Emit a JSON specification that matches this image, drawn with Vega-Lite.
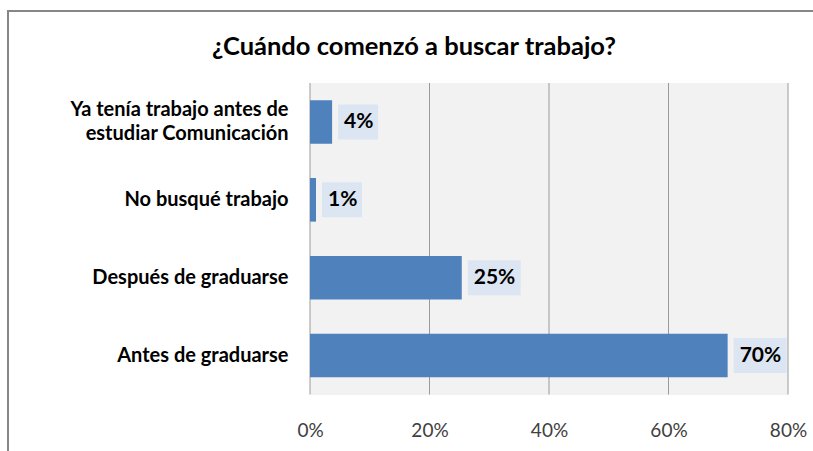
{
  "$schema": "https://vega.github.io/schema/vega-lite/v6.json",
  "autosize": {"type": "none"},
  "padding": {"left": 8, "top": 11, "right": 0, "bottom": 0},
  "width": 830,
  "height": 460,
  "background": "white",
  "config": {
    "view": {"stroke": "#868686", "strokeWidth": 2, "fill": "white"},
    "font": "Lato"
  },
  "title": {
    "text": "¿Cuándo comenzó a buscar trabajo?",
    "orient": "top",
    "anchor": "middle",
    "frame": "group",
    "baseline": "alphabetic",
    "offset": -69,
    "dx": -9,
    "font": "Lato",
    "fontSize": 25.5,
    "fontWeight": "bold",
    "color": "#000000"
  },
  "datasets": {
    "answers": [
      {"category": "Ya tenía trabajo antes de estudiar Comunicación", "value": 3.7, "label": "4%"},
      {"category": "No busqué trabajo", "value": 1.0, "label": "1%"},
      {"category": "Después de graduarse", "value": 25.4, "label": "25%"},
      {"category": "Antes de graduarse", "value": 69.9, "label": "70%"}
    ],
    "grid": [{"tick": 0}, {"tick": 20}, {"tick": 40}, {"tick": 60}, {"tick": 80}]
  },
  "resolve": {"scale": {"y": "independent"}},
  "layer": [
    {
      "data": {"name": "grid"},
      "layer": [
        {
          "mark": {"type": "rect", "color": "#f2f2f2"},
          "encoding": {
            "x": {"datum": 0, "type": "quantitative", "scale": {"domain": [0, 80], "range": [302, 780]}},
            "x2": {"datum": 80},
            "y": {"datum": 0, "type": "quantitative", "scale": {"domain": [0, 1], "range": [72, 383.5]}, "axis": null},
            "y2": {"datum": 1}
          }
        },
        {
          "mark": {"type": "rule", "color": "#9a9a9a", "strokeWidth": 1},
          "encoding": {
            "x": {"field": "tick", "type": "quantitative", "scale": {"domain": [0, 80], "range": [302, 780]}},
            "y": {"datum": 0, "type": "quantitative", "scale": {"domain": [0, 1], "range": [72, 383.5]}, "axis": null},
            "y2": {"datum": 1}
          }
        }
      ]
    },
    {
      "data": {"name": "answers"},
      "encoding": {
        "y": {
          "field": "category",
          "type": "nominal",
          "sort": ["Ya tenía trabajo antes de estudiar Comunicación", "No busqué trabajo", "Después de graduarse", "Antes de graduarse"],
          "scale": {"range": [72, 383.5], "paddingInner": 0.44, "paddingOuter": 0.22},
          "axis": {
            "title": null,
            "orient": "left",
            "offset": -302,
            "domain": false,
            "ticks": false,
            "labelPadding": 22,
            "labelFont": "Lato",
            "labelFontSize": 20,
            "labelFontWeight": "bold",
            "labelColor": "#000000",
            "labelAlign": "right",
            "labelLimit": 0,
            "labelLineHeight": 24,
            "labelOffset": {"condition": {"test": "datum.value == 'Ya tenía trabajo antes de estudiar Comunicación'", "value": -12}, "value": 0},
            "labelExpr": "datum.value == 'Ya tenía trabajo antes de estudiar Comunicación' ? ['Ya tenía trabajo antes de', 'estudiar Comunicación'] : datum.label"
          }
        },
        "x": {
          "field": "value",
          "type": "quantitative",
          "scale": {"domain": [0, 80], "range": [302, 780]},
          "axis": {
            "title": null,
            "orient": "bottom",
            "offset": -76.5,
            "values": [0, 20, 40, 60, 80],
            "labelExpr": "datum.value + '%'",
            "labelFlush": false,
            "domain": false,
            "ticks": false,
            "grid": false,
            "labelPadding": 27,
            "labelFont": "Lato",
            "labelFontSize": 19,
            "labelFontWeight": "normal",
            "labelColor": "#404040"
          }
        }
      },
      "layer": [
        {
          "mark": {"type": "bar", "color": "#4f81bd"}
        },
        {
          "transform": [{"filter": "length(datum.label) > 2"}],
          "mark": {"type": "bar", "color": "#dce6f2", "height": 35, "xOffset": 6, "x2Offset": 59},
          "encoding": {"x2": {"field": "value"}}
        },
        {
          "transform": [{"filter": "length(datum.label) <= 2"}],
          "mark": {"type": "bar", "color": "#dce6f2", "height": 35, "xOffset": 6, "x2Offset": 46},
          "encoding": {"x2": {"field": "value"}}
        },
        {
          "mark": {"type": "text", "align": "left", "baseline": "middle", "dx": 12, "font": "Lato", "fontSize": 21, "fontWeight": "bold", "color": "#000000"},
          "encoding": {"text": {"field": "label"}}
        }
      ]
    }
  ]
}
